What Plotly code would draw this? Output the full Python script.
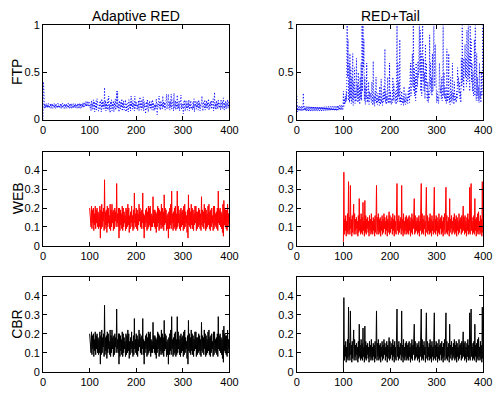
import numpy as np
import plotly.graph_objects as go

# ---------------- data (values in hundredths) ----------------
# FTP series: t = 0..400, step 1
FTP_ARED = [
    0, 40, 30, 12, 17, 12, 16, 13, 17, 12, 16, 13, 17, 12, 15, 13, 17, 12, 16, 13,
    17, 12, 15, 13, 17, 12, 16, 12, 17, 13, 15, 12, 17, 13, 16, 12, 15, 13, 17, 12,
    16, 12, 17, 13, 15, 12, 17, 12, 16, 13, 17, 12, 15, 13, 17, 12, 16, 12, 17, 13,
    16, 12, 17, 13, 15, 12, 17, 13, 16, 12, 17, 13, 15, 12, 17, 13, 16, 12, 17, 13,
    17, 12, 16, 13, 17, 13, 18, 13, 17, 14, 18, 14, 19, 14, 18, 15, 19, 14, 18, 15,
    18, 12, 16, 9, 20, 13, 17, 10, 21, 14, 19, 8, 17, 12, 20, 10, 22, 13, 16, 9,
    9, 18, 12, 20, 15, 8, 22, 13, 19, 11, 18, 14, 34, 11, 20, 9, 17, 12, 21, 10,
    18, 25, 10, 16, 7, 19, 14, 21, 9, 17, 12, 20, 8, 18, 13, 22, 10, 17, 30, 12,
    30, 12, 16, 8, 20, 14, 11, 19, 13, 22, 9, 18, 12, 20, 10, 17, 14, 21, 8, 16,
    10, 17, 13, 8, 21, 15, 12, 19, 9, 25, 14, 18, 11, 20, 13, 17, 9, 25, 12, 19,
    14, 18, 10, 16, 12, 20, 9, 17, 24, 13, 18, 10, 21, 12, 16, 24, 9, 19, 13, 17,
    6, 15, 19, 11, 21, 13, 8, 18, 14, 20, 11, 17, 12, 19, 10, 21, 13, 18, 9, 16,
    10, 16, 12, 22, 9, 5, 17, 13, 19, 25, 12, 18, 10, 20, 14, 17, 11, 25, 13, 19,
    12, 18, 10, 15, 21, 27, 11, 17, 14, 27, 12, 19, 10, 20, 13, 27, 11, 18, 14, 21,
    9, 28, 15, 12, 20, 10, 18, 13, 26, 11, 17, 12, 20, 9, 18, 14, 26, 11, 17, 13,
    16, 6, 19, 13, 21, 9, 15, 20, 12, 17, 10, 19, 13, 21, 9, 17, 12, 20, 14, 11,
    14, 10, 19, 12, 22, 8, 16, 14, 20, 11, 17, 13, 19, 10, 21, 12, 18, 9, 16, 14,
    18, 25, 13, 9, 19, 15, 12, 21, 10, 17, 13, 20, 11, 18, 14, 22, 10, 17, 12, 19,
    14, 20, 11, 16, 13, 22, 9, 18, 29, 12, 17, 10, 20, 13, 18, 11, 21, 14, 17, 12,
    17, 10, 21, 14, 12, 19, 11, 23, 15, 10, 18, 13, 20, 11, 17, 14, 21, 12, 18, 13,
    16,
]
FTP_TAIL = [
    25, 8, 14, 9, 13, 10, 14, 9, 13, 10, 14, 9, 13, 10, 28, 9, 14, 10, 13, 9,
    14, 9, 13, 10, 14, 9, 13, 10, 14, 9, 13, 10, 14, 9, 13, 10, 14, 9, 13, 10,
    14, 9, 13, 10, 14, 9, 13, 10, 14, 9, 13, 10, 14, 9, 13, 10, 14, 9, 13, 10,
    14, 9, 13, 10, 14, 9, 13, 10, 14, 9, 13, 10, 14, 9, 13, 10, 14, 9, 13, 10,
    14, 9, 13, 10, 14, 9, 13, 10, 15, 10, 14, 10, 15, 10, 14, 11, 15, 10, 14, 11,
    30, 14, 22, 16, 25, 18, 30, 20, 100, 45, 85, 20, 60, 18, 70, 22, 55, 17, 45, 19,
    70, 15, 40, 22, 55, 17, 30, 19, 65, 24, 38, 18, 50, 20, 35, 16, 45, 22, 60, 20,
    100, 30, 100, 55, 85, 20, 45, 16, 35, 22, 60, 18, 25, 20, 40, 16, 30, 22, 28, 18,
    18, 40, 20, 15, 62, 18, 25, 14, 30, 20, 45, 17, 22, 16, 28, 19, 24, 15, 35, 20,
    16, 43, 18, 22, 15, 28, 19, 35, 21, 75, 18, 30, 16, 25, 20, 45, 17, 22, 19, 60,
    17, 30, 20, 16, 22, 18, 45, 20, 38, 24, 25, 18, 30, 16, 22, 100, 19, 60, 24, 40,
    19, 85, 18, 24, 16, 30, 20, 17, 25, 15, 35, 18, 22, 16, 28, 20, 18, 24, 17, 30,
    22, 35, 18, 45, 60, 25, 40, 55, 70, 35, 100, 30, 55, 25, 45, 20, 60, 28, 50, 35,
    62, 45, 85, 100, 50, 95, 30, 70, 25, 55, 100, 40, 65, 30, 50, 22, 80, 35, 60, 28,
    20, 40, 18, 30, 22, 90, 35, 60, 28, 45, 25, 70, 30, 55, 100, 60, 35, 80, 40, 55,
    18, 30, 20, 25, 17, 22, 60, 40, 28, 35, 22, 45, 20, 30, 100, 25, 50, 22, 35, 20,
    26, 17, 75, 19, 30, 22, 70, 18, 25, 16, 45, 20, 30, 18, 60, 22, 28, 16, 40, 20,
    20, 25, 18, 30, 22, 55, 35, 45, 28, 40, 22, 30, 18, 65, 35, 100, 40, 65, 30, 50,
    50, 80, 45, 65, 35, 95, 60, 40, 100, 45, 70, 30, 100, 55, 85, 40, 60, 30, 50, 25,
    35, 85, 25, 100, 30, 20, 70, 25, 45, 20, 35, 18, 60, 22, 30, 18, 50, 25, 35, 100,
    40,
]
# WEB / CBR series: t = 100..400, step 1
WEB_ARED = [
    20, 15, 18, 10, 21, 9, 19, 12, 20, 8, 17, 11, 21, 9, 19, 12, 20, 10, 18, 9,
    17, 10, 21, 4, 19, 9, 22, 10, 18, 13, 20, 8, 35, 9, 18, 11, 19, 7, 21, 10,
    20, 12, 16, 9, 22, 8, 19, 10, 22, 12, 18, 8, 19, 9, 20, 13, 18, 10, 33, 12,
    17, 10, 20, 4, 20, 8, 19, 11, 17, 9, 21, 8, 20, 10, 18, 12, 16, 8, 20, 9,
    19, 10, 22, 11, 20, 7, 16, 9, 18, 12, 21, 10, 16, 8, 19, 9, 28, 12, 17, 10,
    20, 9, 19, 8, 17, 11, 22, 13, 20, 10, 18, 9, 19, 12, 28, 9, 17, 4, 16, 10,
    19, 12, 20, 8, 18, 9, 21, 10, 20, 11, 21, 8, 17, 10, 16, 10, 26, 12, 19, 10,
    19, 9, 18, 7, 17, 10, 21, 12, 20, 8, 19, 9, 18, 11, 22, 9, 20, 10, 18, 8,
    27, 11, 20, 12, 19, 8, 16, 9, 17, 4, 18, 9, 20, 11, 22, 9, 29, 12, 17, 8,
    18, 9, 20, 10, 21, 8, 17, 9, 29, 10, 21, 12, 17, 9, 19, 8, 20, 10, 18, 11,
    19, 8, 21, 9, 22, 10, 18, 12, 16, 7, 19, 4, 27, 11, 20, 10, 18, 9, 22, 11,
    20, 9, 19, 8, 17, 11, 21, 12, 21, 8, 18, 9, 18, 10, 20, 11, 19, 9, 17, 8,
    26, 11, 19, 10, 18, 9, 22, 12, 20, 8, 19, 9, 17, 10, 21, 11, 22, 9, 18, 8,
    19, 10, 20, 12, 16, 8, 21, 9, 21, 11, 17, 10, 18, 9, 20, 8, 29, 12, 19, 11,
    20, 10, 18, 9, 17, 7, 22, 5, 24, 11, 20, 10, 19, 9, 19, 8, 22, 10, 17, 12,
    15,
]
WEB_TAIL = [
    2, 39, 6, 14, 8, 16, 5, 13, 7, 17, 6, 34, 8, 15, 6, 32, 9, 14, 5, 16,
    7, 13, 22, 6, 17, 8, 14, 6, 15, 9, 13, 5, 16, 7, 25, 8, 14, 6, 17, 7,
    15, 6, 23, 8, 13, 5, 24, 7, 16, 6, 14, 9, 15, 7, 13, 5, 16, 8, 14, 6,
    17, 7, 13, 6, 15, 8, 14, 5, 16, 7, 13, 32, 6, 15, 8, 17, 6, 14, 7, 15,
    5, 13, 8, 16, 6, 14, 7, 17, 9, 15, 6, 13, 8, 16, 5, 14, 7, 15, 18, 6,
    16, 7, 13, 9, 15, 6, 17, 8, 14, 5, 16, 7, 13, 6, 15, 33, 8, 14, 6, 16,
    7, 13, 9, 15, 6, 32, 8, 14, 5, 17, 7, 13, 6, 15, 8, 16, 6, 14, 7, 15,
    6, 16, 8, 13, 5, 15, 7, 17, 6, 14, 9, 15, 25, 6, 16, 7, 13, 8, 15, 6,
    14, 7, 16, 5, 13, 8, 15, 33, 6, 17, 7, 14, 6, 16, 9, 13, 5, 15, 31, 7,
    16, 6, 13, 8, 15, 6, 17, 7, 14, 5, 16, 8, 13, 6, 15, 31, 7, 14, 6, 16,
    8, 15, 5, 13, 7, 17, 6, 14, 9, 15, 6, 16, 7, 13, 5, 15, 8, 17, 6, 14,
    31, 7, 16, 6, 13, 8, 15, 5, 25, 7, 14, 9, 16, 6, 13, 7, 15, 8, 17, 6,
    14, 7, 16, 5, 15, 8, 13, 6, 17, 7, 14, 9, 15, 6, 16, 7, 13, 21, 8, 15,
    6, 16, 7, 13, 5, 15, 8, 17, 6, 14, 7, 31, 6, 16, 33, 8, 13, 6, 15, 7,
    16, 6, 25, 8, 14, 5, 15, 7, 17, 6, 18, 8, 13, 6, 16, 7, 14, 5, 34, 7,
    14,
]
# CBR panels read identical to the WEB panels in the reference
CBR_ARED = list(WEB_ARED)
CBR_TAIL = list(WEB_TAIL)

COL_TITLES = ["Adaptive RED", "RED+Tail"]
ROW_LABELS = ["FTP", "WEB", "CBR"]
X_TICKS = [0, 100, 200, 300, 400]
Y_TICKS_FTP = [0, 0.5, 1]
Y_TICKS_OTHER = [0, 0.1, 0.2, 0.3, 0.4]

W, H = 502, 403

def xs(vals, t0, t1):
    return np.linspace(t0, t1, len(vals))

def ys(vals):
    return np.array(vals) / 100.0

fig = go.Figure()

# panel pixel boxes (left, right, top, bottom)
cols_px = [(41, 232), (301, 492)]
rows_px = [(20, 117), (150, 247), (279, 377)]

series = [
    [(FTP_ARED, 0, 400, "#0000ff", "1px,2px"), (FTP_TAIL, 0, 400, "#0000ff", "1px,2px")],
    [(WEB_ARED, 100, 400, "#ff0000", "solid"), (WEB_TAIL, 100, 400, "#ff0000", "solid")],
    [(CBR_ARED, 100, 400, "#000000", "solid"), (CBR_TAIL, 100, 400, "#000000", "solid")],
]

font = "Liberation Sans, Arial, Helvetica, sans-serif"
n = 0
for r in range(3):
    for c in range(2):
        n += 1
        suffix = "" if n == 1 else str(n)
        vals, t0, t1, color, dash = series[r][c]
        fig.add_trace(go.Scatter(
            x=xs(vals, t0, t1), y=ys(vals), mode="lines",
            line=dict(color=color, width=1, dash=dash),
            xaxis="x" + suffix, yaxis="y" + suffix, showlegend=False,
            hoverinfo="skip",
        ))
        l, rr = cols_px[c]
        t, b = rows_px[r]
        common = dict(showline=True, linecolor="black", linewidth=1, mirror="ticks",
                      ticks="inside", ticklen=4, tickcolor="black", tickwidth=1,
                      showgrid=False, zeroline=False,
                      tickfont=dict(family=font, size=11, color="black"))
        fig.layout["xaxis" + suffix] = dict(
            domain=[l / W, rr / W], range=[0, 400], tickvals=X_TICKS,
            anchor="y" + suffix, **common)
        if r == 0:
            yr, yt = [0, 1], Y_TICKS_FTP
            ytxt = ["0", "0.5", "1"]
        else:
            yr, yt = [0, 0.5], Y_TICKS_OTHER
            ytxt = ["0", "0.1", "0.2", "0.3", "0.4"]
        fig.layout["yaxis" + suffix] = dict(
            domain=[1 - b / H, 1 - t / H], range=yr, tickvals=yt, ticktext=ytxt,
            anchor="x" + suffix, **common)

annotations = []
for c, title in enumerate(COL_TITLES):
    l, rr = cols_px[c]
    annotations.append(dict(text=title, x=(l + rr) / 2 / W, y=1 - 10 / H,
                            xref="paper", yref="paper", showarrow=False,
                            xanchor="center", yanchor="middle",
                            font=dict(family=font, size=14, color="black")))
for r, lab in enumerate(ROW_LABELS):
    t, b = rows_px[r]
    annotations.append(dict(text=lab, x=15 / W, y=1 - (t + b) / 2 / H,
                            xref="paper", yref="paper", showarrow=False,
                            textangle=-90, xanchor="center", yanchor="middle",
                            font=dict(family=font, size=14, color="black")))

fig.update_layout(width=W, height=H, margin=dict(l=0, r=0, t=0, b=0),
                  paper_bgcolor="white", plot_bgcolor="white",
                  annotations=annotations)

fig.write_html("out.html")
